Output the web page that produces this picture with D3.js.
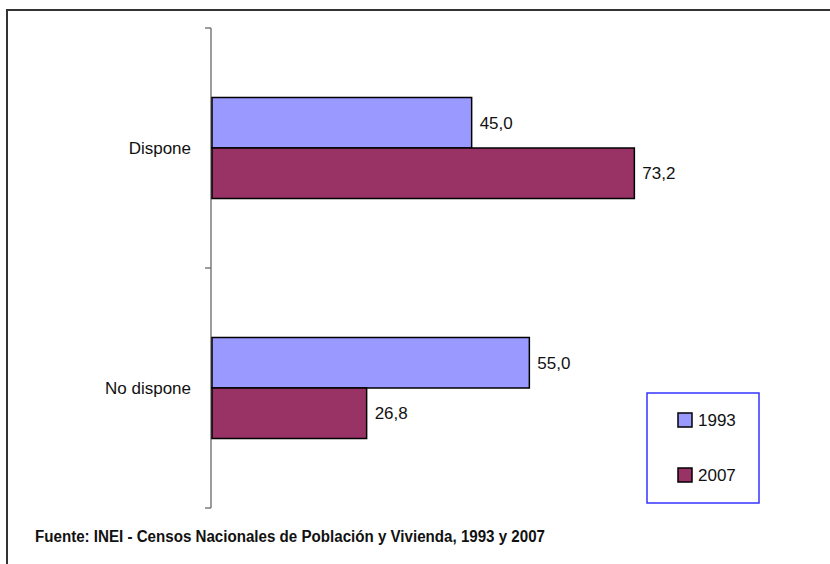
<!DOCTYPE html>
<html>
<head>
<meta charset="utf-8">
<script src="https://cdn.jsdelivr.net/npm/d3@7"></script>
<style>
  body { margin: 0; background: #fff; }
  text { font-family: "Liberation Sans", Arial, sans-serif; }
</style>
</head>
<body>
<svg id="chart" width="830" height="564"></svg>
<script>
let categories = ["Dispone", "No dispone"];
let years = ["1993", "2007"];
let values1993 = [45.0, 55.0];
let values2007 = [73.2, 26.8];
let colors = ["#9999FF", "#993366"];
let source = "Fuente: INEI - Censos Nacionales de Población y Vivienda, 1993 y 2007";

let rows = categories.map((c, i) => ({cat: c, vals: [values1993[i], values2007[i]]}));

let fmt = d3.formatLocale({decimal: ",", thousands: ".", grouping: [3], currency: ["", ""]}).format(".1f");

let svg = d3.select("#chart");

// outer frame (runs off the right and bottom edge)
svg.append("rect")
  .attr("x", 7).attr("y", 10)
  .attr("width", 900).attr("height", 700)
  .attr("fill", "none")
  .attr("stroke", "#333")
  .attr("stroke-width", 2);

let x = d3.scaleLinear().domain([0, 100]).range([212, 789]);

let y = d3.scaleBand().domain(categories).range([28, 508]);

let ySub = d3.scaleBand().domain(years).range([0, y.step()]).paddingOuter(1.376);

// axis
let axis = svg.append("g")
  .attr("transform", "translate(211,0)");
axis.append("line")
  .attr("y1", 28).attr("y2", 508)
  .attr("stroke", "#666").attr("stroke-width", 1.3);
axis.selectAll(".tk")
  .data(categories.map(c => y(c)).concat([y.range()[1]]))
  .enter().append("line")
  .attr("x1", -6).attr("x2", 0)
  .attr("y1", d => d).attr("y2", d => d)
  .attr("stroke", "#666").attr("stroke-width", 1.3);

// category labels
svg.selectAll(".cat")
  .data(categories)
  .enter().append("text")
  .attr("x", 191)
  .attr("y", d => y(d) + y.step() / 2)
  .attr("dy", "0.35em")
  .attr("text-anchor", "end")
  .attr("font-size", "17px")
  .attr("fill", "#111")
  .text(d => d);

// bars
let groups = svg.selectAll(".grp")
  .data(rows)
  .enter().append("g")
  .attr("transform", d => `translate(0,${y(d.cat)})`);

groups.selectAll("rect")
  .data(d => d.vals.map((v, j) => ({v: v, yr: years[j], col: colors[j]})))
  .enter().append("rect")
  .attr("x", x(0))
  .attr("y", d => ySub(d.yr))
  .attr("width", d => x(d.v) - x(0))
  .attr("height", ySub.bandwidth())
  .attr("fill", d => d.col)
  .attr("stroke", "#000")
  .attr("stroke-width", 1.5);

groups.selectAll("text")
  .data(d => d.vals.map((v, j) => ({v: v, yr: years[j]})))
  .enter().append("text")
  .attr("x", d => x(d.v) + 8)
  .attr("y", d => ySub(d.yr) + ySub.bandwidth() / 2)
  .attr("dy", "0.35em")
  .attr("font-size", "17px")
  .attr("fill", "#111")
  .text(d => fmt(d.v));

// legend
let legend = svg.append("g").attr("transform", "translate(647,393)");
legend.append("rect")
  .attr("width", 112).attr("height", 110)
  .attr("fill", "#fff")
  .attr("stroke", "#3333ff")
  .attr("stroke-width", 1.5);
let items = legend.selectAll(".it")
  .data(years)
  .enter().append("g")
  .attr("transform", (d, i) => `translate(31,${20 + i * 55})`);
items.append("rect")
  .attr("width", 14).attr("height", 14)
  .attr("fill", (d, i) => colors[i])
  .attr("stroke", "#000").attr("stroke-width", 1.5);
items.append("text")
  .attr("x", 20).attr("y", 7)
  .attr("dy", "0.35em")
  .attr("font-size", "17px")
  .attr("fill", "#111")
  .text(d => d);

// source note (condensed bold)
svg.append("text")
  .attr("x", 35).attr("y", 542)
  .attr("font-size", "16px")
  .attr("font-weight", "bold")
  .attr("fill", "#111")
  .attr("textLength", 510)
  .attr("lengthAdjust", "spacingAndGlyphs")
  .text(source);
</script>
</body>
</html>
